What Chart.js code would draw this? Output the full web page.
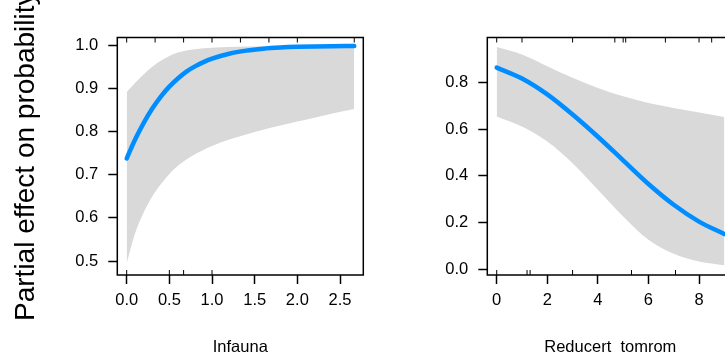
<!DOCTYPE html>
<html><head><meta charset="utf-8">
<script src="https://cdn.jsdelivr.net/npm/chart.js@4.4.1/dist/chart.umd.min.js"></script>
<style>
html,body{margin:0;padding:0;overflow:hidden;background:#fff;width:725px;height:356px;}
#wrap{position:relative;width:725px;height:356px;overflow:hidden;}
canvas{position:absolute;top:0;}
</style></head><body>
<div id="wrap">
<canvas id="c1" width="370" height="356" style="left:0;width:370px;height:356px"></canvas>
<canvas id="c2" width="370" height="356" style="left:370px;width:370px;height:356px"></canvas>
</div>
<script>
// ---- Panel 1: Infauna ----
const infaunaX     = [0, 0.05, 0.1, 0.2, 0.3, 0.4, 0.5, 0.6, 0.7, 0.8, 0.9, 1.0, 1.2, 1.4, 1.6, 1.8, 2.0, 2.2, 2.4, 2.667];
const infaunaFit   = [0.738, 0.761, 0.783, 0.821, 0.854, 0.882, 0.905, 0.924, 0.940, 0.952, 0.962, 0.970, 0.9815, 0.9886, 0.993, 0.9957, 0.9974, 0.9984, 0.999, 0.9995];
const infaunaUpper = [0.892, 0.903, 0.914, 0.934, 0.951, 0.965, 0.976, 0.984, 0.989, 0.992, 0.994, 0.9955, 0.9972, 0.9982, 0.9989, 0.9993, 0.9995, 0.9997, 0.9998, 0.9999];
const infaunaLower = [0.494, 0.532, 0.565, 0.613, 0.650, 0.678, 0.702, 0.721, 0.736, 0.748, 0.758, 0.767, 0.782, 0.794, 0.805, 0.815, 0.824, 0.833, 0.842, 0.853];
const infaunaRugTop    = [0, 0.333, 0.667, 1.0, 1.333, 1.667, 2.0, 2.667];
const infaunaRugBottom = [0, 0.5, 0.667, 1.0];
const infaunaTicksX = [0, 0.5, 1.0, 1.5, 2.0, 2.5];
const infaunaTicksY = [0.5, 0.6, 0.7, 0.8, 0.9, 1.0];

// ---- Panel 2: Reducert tomrom ----
const tomromX     = [0, 1, 2, 3, 4, 5, 6, 7, 8, 9];
const tomromFit   = [0.863, 0.816, 0.748, 0.662, 0.567, 0.466, 0.365, 0.276, 0.204, 0.151];
const tomromUpper = [0.951, 0.919, 0.869, 0.819, 0.776, 0.740, 0.711, 0.690, 0.671, 0.651];
const tomromLower = [0.654, 0.611, 0.547, 0.454, 0.340, 0.226, 0.126, 0.066, 0.033, 0.017];
const tomromRugTop    = [0, 1.0, 3.0, 4.67, 5.0, 5.1, 6.67, 8.0, 8.5];
const tomromRugBottom = [0, 1.2, 1.32, 3.0, 5.33, 7.07];
const tomromTicksX = [0, 2, 4, 6, 8];
const tomromTicksY = [0, 0.2, 0.4, 0.6, 0.8];

const yAxisLabel = 'Partial effect on probability';
const FONT = "'Liberation Sans', Arial, Helvetica, sans-serif";
const BLUE = '#008DFF';
const BAND = '#D9D9D9';

const boxRug = {
  id: 'boxRug',
  afterDatasetsDraw(chart, args, opts) {
    const {ctx, chartArea: a} = chart;
    const xs = chart.scales.x;
    ctx.save();
    ctx.strokeStyle = '#000';
    ctx.lineWidth = 1;
    ctx.beginPath();
    (opts.top || []).forEach(v => { const p = xs.getPixelForValue(v); ctx.moveTo(p, a.top); ctx.lineTo(p, a.top + 5); });
    (opts.bottom || []).forEach(v => { const p = xs.getPixelForValue(v); ctx.moveTo(p, a.bottom); ctx.lineTo(p, a.bottom - 5); });
    ctx.stroke();
    ctx.lineWidth = 1.5;
    ctx.strokeRect(a.left, a.top, a.right - a.left, a.bottom - a.top);
    ctx.restore();
  }
};

function pts(xs, ys) { return xs.map((x, i) => ({x: x, y: ys[i]})); }

function makePanel(id, p) {
  return new Chart(document.getElementById(id), {
    type: 'line',
    data: {
      datasets: [
        {data: pts(p.x, p.fit), borderColor: BLUE, borderWidth: 4.5, borderCapStyle: 'round', borderJoinStyle: 'round', pointRadius: 0, cubicInterpolationMode: 'monotone', fill: false},
        {data: pts(p.x, p.lower), borderWidth: 0, borderColor: 'rgba(0,0,0,0)', pointRadius: 0, cubicInterpolationMode: 'monotone', fill: false},
        {data: pts(p.x, p.upper), borderWidth: 0, borderColor: 'rgba(0,0,0,0)', backgroundColor: BAND, pointRadius: 0, cubicInterpolationMode: 'monotone', fill: '-1'}
      ]
    },
    options: {
      responsive: false, animation: false, devicePixelRatio: 1,
      layout: {padding: {left: 0, right: 6.7, top: 37.5, bottom: 0}},
      plugins: {legend: {display: false}, tooltip: {enabled: false}, boxRug: {top: p.rugTop, bottom: p.rugBottom}},
      scales: {
        x: {
          type: 'linear', min: p.xmin, max: p.xmax,
          afterBuildTicks: s => { s.ticks = p.ticksX.map(v => ({value: v})); },
          afterFit: s => { s.height = 81; },
          grid: {drawOnChartArea: false, drawTicks: true, tickLength: 9, tickColor: '#000', tickWidth: 1.5},
          border: {display: false},
          ticks: {color: '#000', font: {family: FONT, size: 16.5}, padding: 7, maxRotation: 0, autoSkip: false, callback: v => v.toFixed(p.xdec)},
          title: {display: true, text: p.xtitle, color: '#000', font: {family: FONT, size: 16.5, lineHeight: 1}, padding: {top: 0, bottom: 0}}
        },
        y: {
          type: 'linear', min: p.ymin, max: p.ymax,
          afterBuildTicks: s => { s.ticks = p.ticksY.map(v => ({value: v})); },
          afterFit: s => { s.width = 117.3; },
          grid: {drawOnChartArea: false, drawTicks: true, tickLength: 9, tickColor: '#000', tickWidth: 1.5},
          border: {display: false},
          ticks: {color: '#000', font: {family: FONT, size: 16.5}, padding: 10, autoSkip: false, callback: v => v.toFixed(1)},
          title: {display: !!p.ytitle, text: p.ytitle || '', color: '#000', font: {family: FONT, size: 28, lineHeight: 1}, padding: {top: 11.8, bottom: 0}}
        }
      }
    },
    plugins: [boxRug]
  });
}

makePanel('c1', {
  x: infaunaX, fit: infaunaFit, upper: infaunaUpper, lower: infaunaLower,
  rugTop: infaunaRugTop, rugBottom: infaunaRugBottom,
  ticksX: infaunaTicksX, ticksY: infaunaTicksY, xdec: 1,
  xmin: -0.110, xmax: 2.773, ymin: 0.4675, ymax: 1.0191,
  xtitle: 'Infauna', ytitle: yAxisLabel
});
makePanel('c2', {
  x: tomromX, fit: tomromFit, upper: tomromUpper, lower: tomromLower,
  rugTop: tomromRugTop, rugBottom: tomromRugBottom,
  ticksX: tomromTicksX, ticksY: tomromTicksY, xdec: 0,
  xmin: -0.372, xmax: 9.355, ymin: -0.0244, ymax: 0.9916,
  xtitle: 'Reducert  tomrom', ytitle: ''
});
</script>
</body></html>
